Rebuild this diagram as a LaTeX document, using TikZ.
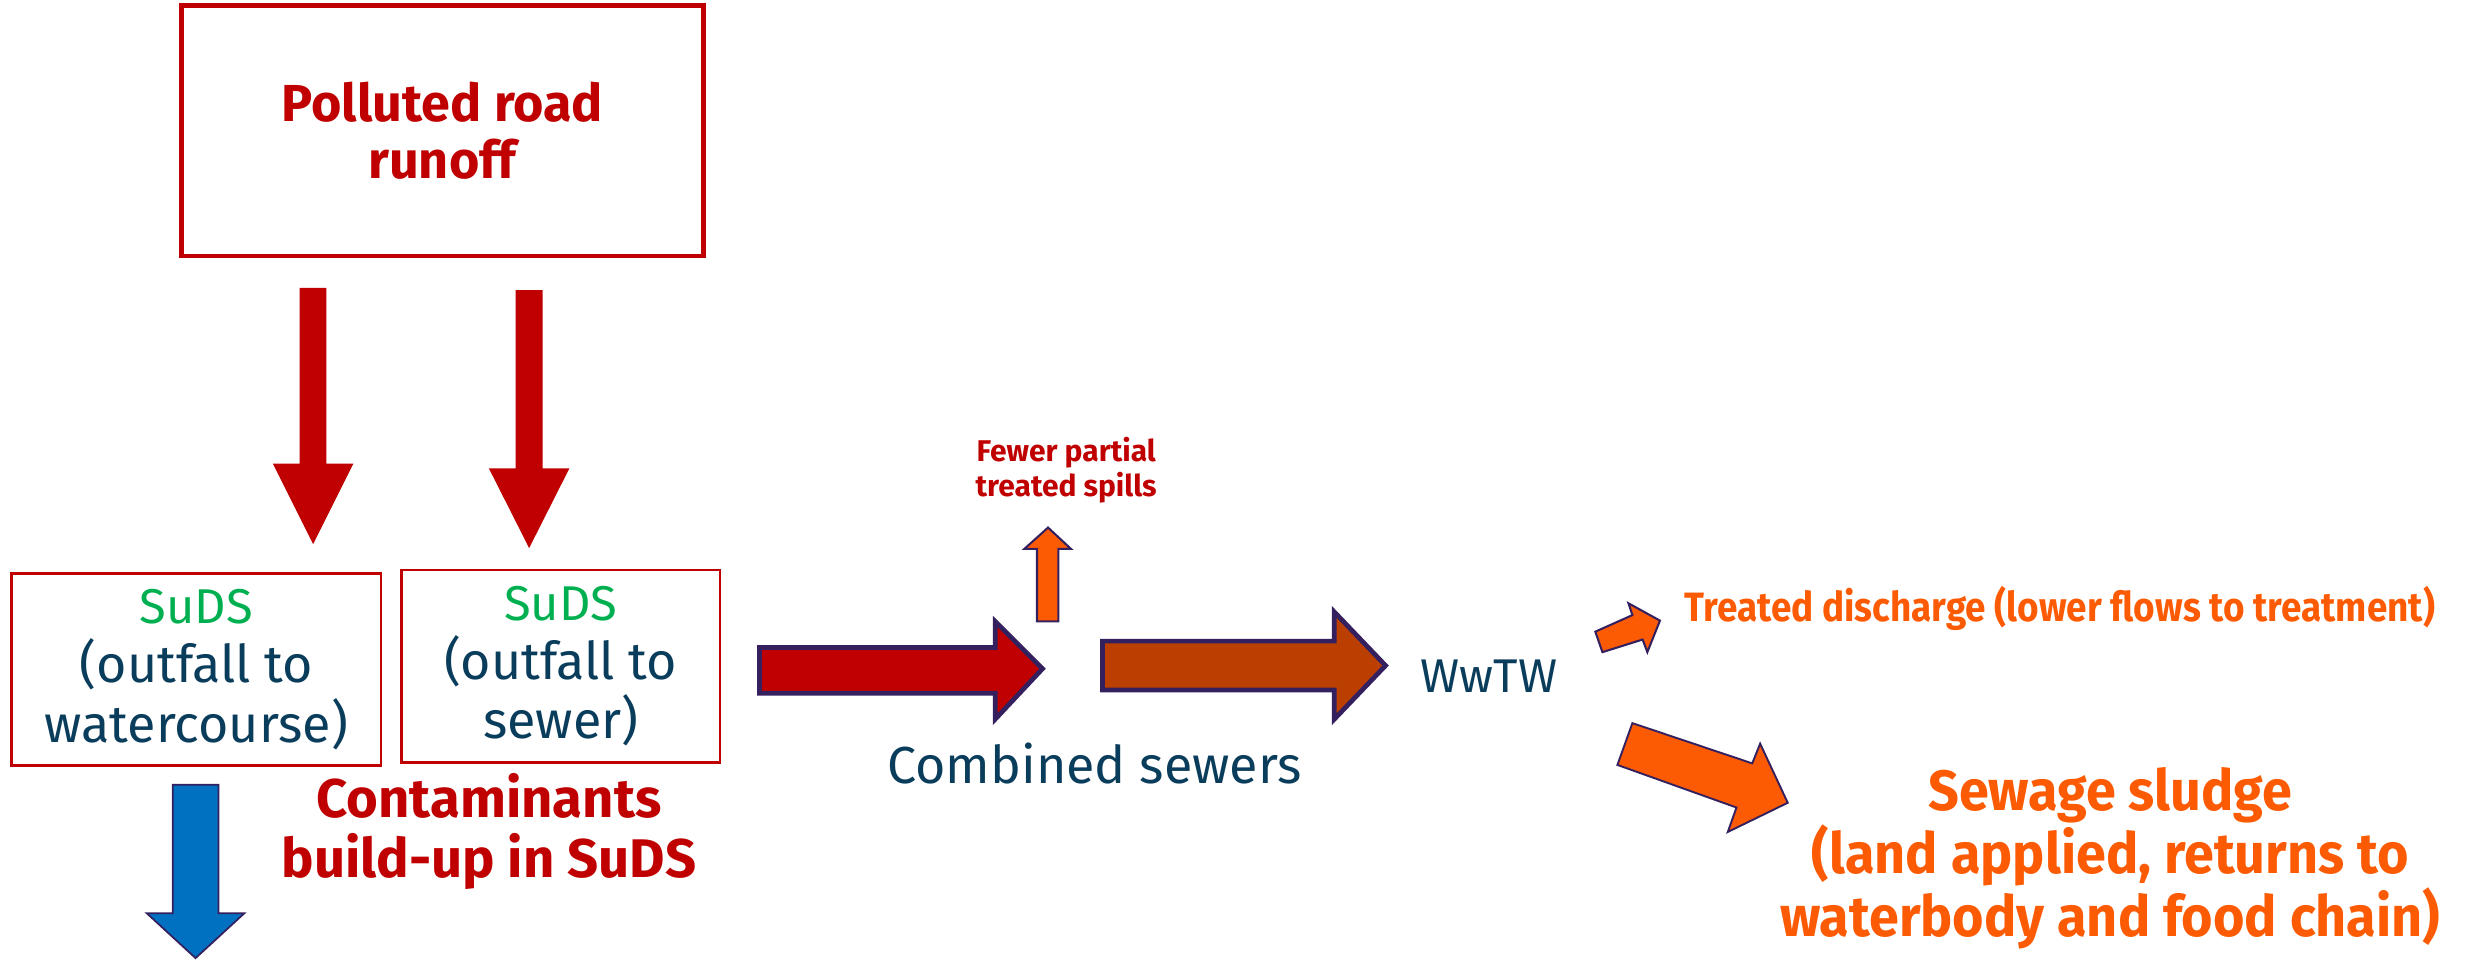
\documentclass[tikz,border=0pt]{standalone}
\usepackage{fontspec}
\setmainfont{Fira Sans}
\newfontfamily\condfont[FakeStretch=0.9]{Fira Sans}
\newfontfamily\sludgefont[FakeStretch=0.95]{Fira Sans}
\definecolor{dred}{HTML}{C00000}
\definecolor{sgreen}{HTML}{00B050}
\definecolor{teal}{HTML}{0A3D5C}
\definecolor{orng}{HTML}{FC5A03}
\definecolor{brwn}{HTML}{BB3F00}
\definecolor{purp}{HTML}{35205F}
\definecolor{blu}{HTML}{0070C0}
\tikzset{
  redbox/.style={draw=dred, rectangle, inner sep=0pt, align=center},
  bigarrow/.style={draw=purp, line width=3pt, line join=miter},
  smallarrow/.style={draw=purp, line width=1.3pt, line join=miter},
  sudstext/.style={font=\fontsize{33}{37.5}\selectfont, text=teal},
  lbl/.style={inner sep=0pt, align=center}
}
\newcommand{\sudsword}{\textcolor{sgreen}{\fontsize{31}{37.5}\selectfont SuDS}}
\begin{document}
\begin{tikzpicture}[x=1pt,y=-1pt]
\useasboundingbox (0,0) rectangle (1568,610);

% top box
\node[redbox, line width=2.8pt, minimum width=331pt, minimum height=159pt,
      font=\fontsize{33}{36.5}\selectfont\bfseries, text=dred] (road) at (280.5,83)
  {Polluted road\\runoff};

% red down arrows
\fill[dred] (190,182.5) -- (207,182.5) -- (207,294) -- (224,294) -- (198.5,345) -- (173,294) -- (190,294) -- cycle;
\fill[dred] (327,184) -- (344,184) -- (344,297) -- (361,297) -- (335.5,347.5) -- (310,297) -- (327,297) -- cycle;

% SuDS boxes
\node[redbox, sudstext, line width=1.7pt, minimum width=234pt, minimum height=122pt] (suds1) at (124.5,424.5)
  {\sudsword\\(outfall to\\watercourse)};
\node[redbox, sudstext, line width=1.7pt, minimum width=202pt, minimum height=122pt] (suds2) at (355.5,422.5)
  {\sudsword\\(outfall to\\sewer)};

% blue down arrow
\filldraw[fill=blu, draw=purp, line width=1.1pt, line join=miter]
  (109.5,497.5) -- (138.5,497.5) -- (138.5,579) -- (155,579) -- (124,607.5) -- (93,579) -- (109.5,579) -- cycle;

% contaminants text
\node[lbl, font=\fontsize{34.5}{38}\selectfont\bfseries, text=dred] (cont) at (310,527)
  {Contaminants\\build-up in SuDS};

% red right arrow
\filldraw[fill=dred, bigarrow]
  (481.5,410.5) -- (631,410.5) -- (631,394) -- (661,424) -- (631,456) -- (631,439.5) -- (481.5,439.5) -- cycle;

% brown right arrow
\filldraw[fill=brwn, bigarrow]
  (699,406.5) -- (846,406.5) -- (846,388) -- (878.5,422) -- (846,456) -- (846,437.5) -- (699,437.5) -- cycle;

% combined sewers label
\node[lbl, font=\fontsize{33}{36}\selectfont, text=teal] (comb) at (694,484) {Combined sewers};

% orange up arrow
\filldraw[fill=orng, smallarrow]
  (657.5,394) -- (657.5,348) -- (649.5,348) -- (664.5,334.5) -- (679,348) -- (671,348) -- (671,394) -- cycle;

% fewer partial treated spills
\node[lbl, font=\fontsize{19}{22.5}\selectfont\bfseries, text=dred] (fewer) at (676,298)
  {Fewer partial\\treated spills};

% WwTW
\node[lbl, font=\fontsize{30}{36}\selectfont, text=teal] (wwtw) at (944,429) {WwTW};

% small orange diagonal arrow
\filldraw[fill=orng, smallarrow]
  (1011.5,400.5) -- (1035,390) -- (1032.5,382.5) -- (1052.5,393.5) -- (1044.5,413.5) -- (1041.5,405.5) -- (1016,413.5) -- cycle;

% treated discharge
\node[lbl, anchor=west, font=\condfont\fontsize{26}{30}\selectfont\bfseries, text=orng] (treat) at (1068,386)
  {Treated discharge (lower flows to treatment)};

% big orange arrow
\filldraw[fill=orng, draw=purp, line width=1.2pt, line join=miter]
  (1035,458.5) -- (1111,484) -- (1116,471.5) -- (1133.5,509) -- (1095.5,527.5) -- (1101,512) -- (1025.5,485) -- cycle;

% sewage sludge
\node[lbl, font=\sludgefont\fontsize{36}{36}\selectfont\bfseries, text=orng] (sludge) at (1338,544)
  {Sewage sludge\\(land applied, returns to\\waterbody and food chain)};
\end{tikzpicture}
\end{document}
